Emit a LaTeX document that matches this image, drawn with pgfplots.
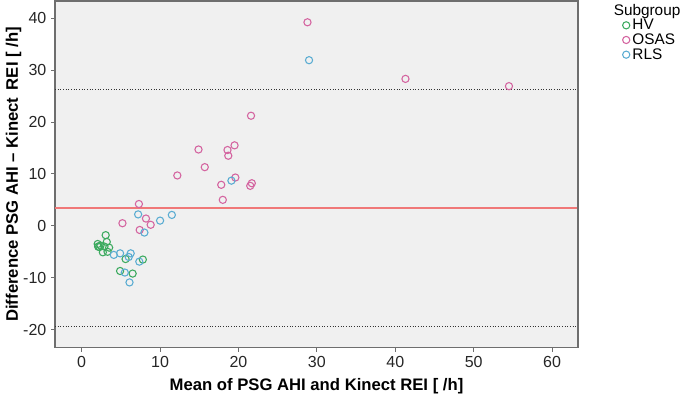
\documentclass[border=0pt]{standalone}
\usepackage{pgfplots}
\pgfplotsset{compat=1.18}
\usepackage{fontspec}
\setmainfont{Liberation Sans}
\definecolor{hv}{RGB}{60,170,95}
\definecolor{osas}{RGB}{212,100,160}
\definecolor{rls}{RGB}{90,172,210}
\definecolor{bg}{RGB}{240,240,240}
\definecolor{frame}{RGB}{110,110,110}
\begin{document}
\begin{tikzpicture}[x=1pt,y=1pt]
\begin{axis}[
  scale only axis,
  width=392pt, height=260pt,
  xmin=-3.4, xmax=63.3, ymin=-23.5, ymax=43.3,
  xtick={0,10,...,60}, ytick={-20,-10,...,40},
  tick align=outside, tick pos=left,
  major tick length=3pt,
  axis background/.style={fill=bg},
  axis line style={frame, line width=0.9pt},
  tick style={frame, line width=0.6pt},
  /pgf/number format/assume math mode=true,
  ticklabel style={font=\fontsize{12}{13}\selectfont, text=black!85},
  xlabel={\bfseries Mean of PSG AHI and Kinect REI [ /h]},
  ylabel={\bfseries Difference PSG AHI -- Kinect\, REI [ /h]},
  xlabel style={font=\fontsize{12.5}{14}\selectfont, at={(axis description cs:0.5,0)}, anchor=center, yshift=-28.5pt},
  ylabel style={font=\fontsize{12.5}{14}\selectfont, at={(axis description cs:0,0.5)}, anchor=center, yshift=31pt},
  legend style={at={(1.07,1)}, anchor=north west, draw=none, fill=none,
    font=\fontsize{11.5}{12}\selectfont, row sep=-2.5pt, inner sep=0pt},
  legend cell align=left,
  clip=false,
]
\addlegendimage{empty legend}
\addlegendentry{\hspace{-14pt}Subgroup}
\addplot[only marks, mark=o, mark size=2.7pt, draw=hv, mark options={line width=0.8pt}] coordinates {
(3.06,-1.8) (3.2,-3.1) (2.04,-3.5) (2.1,-4.0) (2.25,-4.1) (2.4,-3.8) (2.9,-4.0) (3.5,-4.2) (2.7,-5.1) (3.3,-5.0) (5.6,-6.4) (7.8,-6.5) (4.9,-8.7) (6.5,-9.2)
};
\addlegendentry{HV}
\addplot[only marks, mark=o, mark size=2.7pt, draw=osas, mark options={line width=0.8pt}] coordinates {
(28.8,39.2) (41.3,28.3) (54.5,26.9) (21.6,21.2) (14.9,14.7) (18.6,14.6) (19.5,15.5) (18.7,13.5) (15.7,11.3) (12.2,9.7) (19.6,9.3) (17.8,7.9) (21.7,8.2) (21.5,7.7) (18.0,5.0) (7.3,4.2) (5.2,0.5) (8.2,1.4) (8.8,0.2) (7.4,-0.8)
};
\addlegendentry{OSAS}
\addplot[only marks, mark=o, mark size=2.7pt, draw=rls, mark options={line width=0.8pt}] coordinates {
(29.0,31.9) (19.1,8.7) (7.2,2.2) (11.5,2.1) (10.0,1.0) (8.0,-1.3) (4.1,-5.6) (4.9,-5.3) (6.25,-5.3) (6.0,-6.0) (7.35,-6.9) (5.5,-9.0) (6.1,-10.9)
};
\addlegendentry{RLS}
\addplot[draw={rgb,255:red,240;green,120;blue,120}, line width=1.3pt, mark=none, forget plot] table {
x y
-3.4 3.5
63.3 3.5
};
\addplot[draw=black!80, line width=0.6pt, dash pattern=on 0.75pt off 1.25pt, mark=none, forget plot] table {
x y
-3.4 26.3
63.3 26.3
};
\addplot[draw=black!80, line width=0.6pt, dash pattern=on 0.75pt off 1.25pt, mark=none, forget plot] table {
x y
-3.4 -19.3
63.3 -19.3
};
\draw[frame, line width=0.9pt] (rel axis cs:0,1) -- (rel axis cs:1,1) -- (rel axis cs:1,0);
\coordinate (SW) at (rel axis cs:0,0);
\coordinate (NE) at (rel axis cs:1,1);
\end{axis}
\pgfresetboundingbox
\path[use as bounding box] ([xshift=-41.25pt,yshift=-46.5pt]SW) rectangle ([xshift=80.25pt,yshift=0.75pt]NE);
\end{tikzpicture}
\end{document}
